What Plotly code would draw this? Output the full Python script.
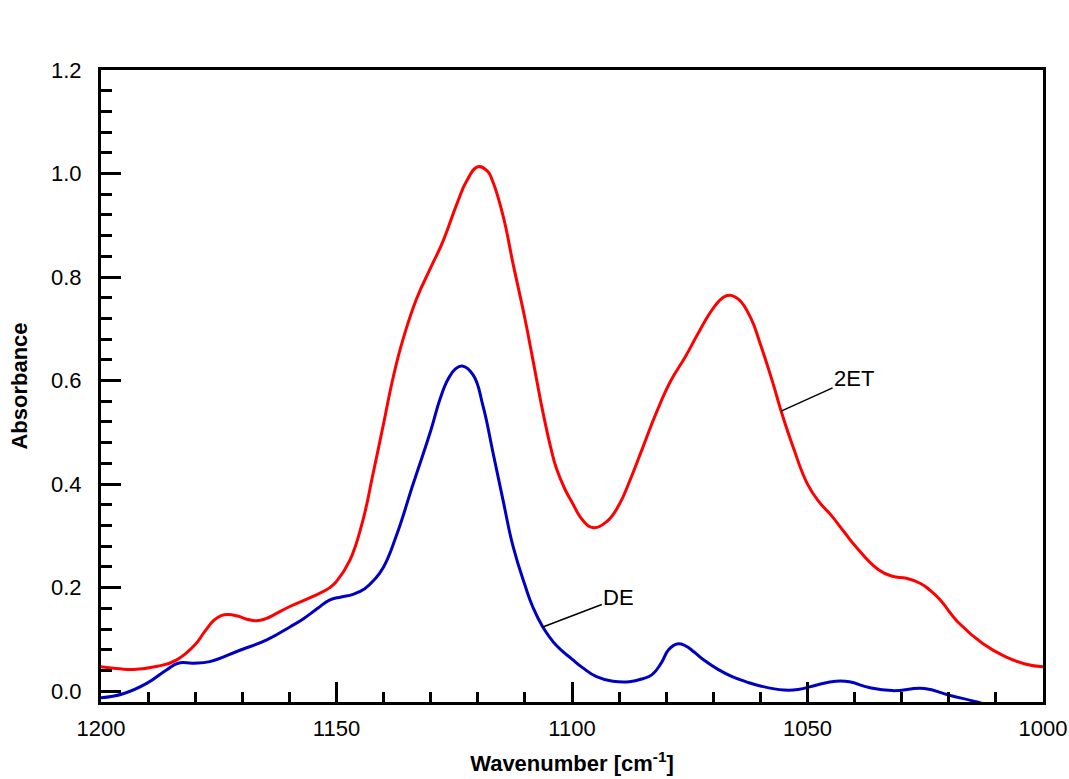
import numpy as np
import plotly.graph_objects as go

# 2ET spectrum (red)
wn_2et = [1200, 1196, 1193, 1188, 1184, 1180, 1178, 1176, 1174.5, 1173, 1171, 1169, 1167, 1165,
          1163.4, 1160, 1155, 1151.4, 1150, 1147.2, 1144.4, 1142.2, 1140, 1138, 1135.9, 1133,
          1130, 1127.4, 1124.5, 1122.4, 1120, 1118, 1116.8, 1114.6, 1112.5, 1110, 1108.3,
          1106.2, 1104.5, 1103.3, 1101.5, 1100, 1097.7, 1095.6, 1092.7, 1090, 1087.8, 1085,
          1082, 1079, 1076, 1073, 1070, 1068, 1066.5, 1064.5, 1062, 1060, 1057.5, 1055.6, 1053,
          1050, 1047.5, 1045, 1042, 1040, 1035, 1032, 1029, 1026, 1024, 1022, 1017.8, 1012.8,
          1007.9, 1003.6, 1000]
abs_2et = [0.047, 0.043, 0.042, 0.048, 0.060, 0.090, 0.115, 0.137, 0.146, 0.148, 0.145, 0.139,
           0.136, 0.140, 0.147, 0.163, 0.183, 0.200, 0.212, 0.252, 0.330, 0.422, 0.517, 0.605,
           0.679, 0.758, 0.818, 0.869, 0.940, 0.985, 1.013, 1.005, 0.984, 0.917, 0.825, 0.720,
           0.640, 0.540, 0.470, 0.430, 0.390, 0.365, 0.330, 0.316, 0.327, 0.360, 0.405, 0.470,
           0.540, 0.600, 0.645, 0.695, 0.740, 0.760, 0.765, 0.756, 0.720, 0.670, 0.600, 0.541,
           0.470, 0.400, 0.365, 0.340, 0.305, 0.282, 0.235, 0.222, 0.218, 0.208, 0.195, 0.178,
           0.131, 0.092, 0.066, 0.052, 0.047]

# DE spectrum (blue)
wn_de = [1200, 1195.3, 1190.3, 1186.1, 1183.6, 1180.4, 1176.9, 1170.5, 1164.8, 1159.9, 1157,
         1154, 1151.5, 1149, 1146.5, 1144, 1142, 1140, 1137.3, 1133.7, 1130, 1128, 1126.3,
         1124.8, 1123.3, 1121, 1118.9, 1116.8, 1114.6, 1112.5, 1110, 1108.3, 1106.2, 1103.3,
         1100, 1097.7, 1094.8, 1091.3, 1087.8, 1085, 1083, 1081, 1079.5, 1077.7, 1076, 1074,
         1072, 1069, 1066, 1063, 1060, 1055, 1052, 1048, 1044, 1041.1, 1036.9, 1032, 1025.2,
         1019.9, 1014, 1010]
abs_de = [-0.013, -0.005, 0.015, 0.041, 0.054, 0.054, 0.057, 0.079, 0.099, 0.124, 0.140,
          0.160, 0.176, 0.182, 0.187, 0.198, 0.215, 0.240, 0.300, 0.401, 0.503, 0.565, 0.603,
          0.622, 0.628, 0.611, 0.551, 0.462, 0.367, 0.279, 0.205, 0.162, 0.124, 0.088, 0.062,
          0.045, 0.028, 0.019, 0.018, 0.024, 0.032, 0.055, 0.080, 0.091, 0.088, 0.075, 0.060,
          0.042, 0.028, 0.018, 0.010, 0.002, 0.003, 0.012, 0.019, 0.018, 0.007, 0.001, 0.005,
          -0.008, -0.021, -0.032]

x_ticks = [1200, 1150, 1100, 1050, 1000]
y_ticks = [0.0, 0.2, 0.4, 0.6, 0.8, 1.0, 1.2]

labels = ["DE", "2ET"]
label_wn = [1106.2, 1055.6]

fig = go.Figure()
fig.add_trace(go.Scatter(x=wn_2et, y=abs_2et, mode="lines", name="2ET",
                         line=dict(color="#FF0000", width=3, shape="spline", smoothing=1.3)))
fig.add_trace(go.Scatter(x=wn_de, y=abs_de, mode="lines", name="DE",
                         line=dict(color="#0000C0", width=3, shape="spline", smoothing=1.3)))

font = dict(family="Liberation Sans, Arial", size=22, color="black")

lab_y = [float(np.interp(label_wn[0], wn_de[::-1], abs_de[::-1])),
         float(np.interp(label_wn[1], wn_2et[::-1], abs_2et[::-1]))]
offsets = [(76, -29), (73, -33)]
for t, xw, yv, (ax, ay) in zip(labels, label_wn, lab_y, offsets):
    fig.add_annotation(x=xw, y=yv, text=t, showarrow=True, arrowhead=0, arrowwidth=1.5,
                       arrowcolor="black", ax=ax, ay=ay, standoff=0, font=font)

fig.update_layout(
    width=1069, height=779,
    margin=dict(l=101, r=26, t=70, b=77),
    paper_bgcolor="white", plot_bgcolor="white",
    showlegend=False,
    font=font,
)
fig.update_xaxes(
    range=[1200, 1000], tickvals=x_ticks, ticktext=[str(v) for v in x_ticks],
    ticks="inside", ticklen=20, tickwidth=2.5, tickcolor="black",
    minor=dict(dtick=10, ticks="inside", ticklen=10, tickwidth=2.5, tickcolor="black", showgrid=False),
    showline=True, linecolor="black", linewidth=3, mirror=True, automargin=False,
    showgrid=False, zeroline=False, tickfont=font, ticklabelstandoff=5,
    title=dict(text="<b>Wavenumber [cm<sup>-1</sup>]</b>", font=font, standoff=16),
)
fig.update_yaxes(
    range=[-0.021, 1.2], tickvals=y_ticks, ticktext=[f"{v:.1f}" for v in y_ticks],
    ticks="inside", ticklen=20, tickwidth=2.5, tickcolor="black",
    minor=dict(dtick=0.04, tick0=0, ticks="inside", ticklen=11, tickwidth=2.5, tickcolor="black", showgrid=False),
    showline=True, linecolor="black", linewidth=3, mirror=True, automargin=False,
    showgrid=False, zeroline=False, tickfont=font, ticklabelstandoff=12,
    title=dict(text="<b>Absorbance</b>", font=font, standoff=18),
)
fig.write_html("out.html")
